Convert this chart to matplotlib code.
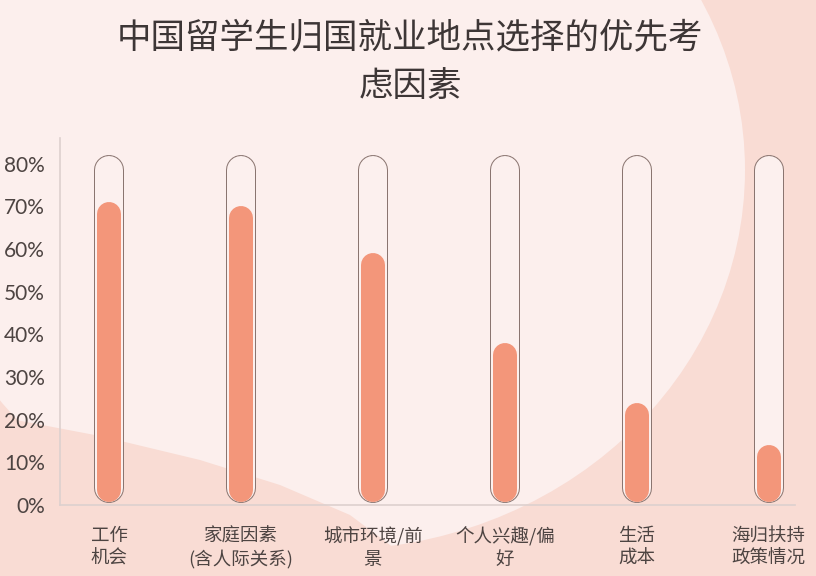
import matplotlib
matplotlib.use("Agg")
import matplotlib.pyplot as plt
from matplotlib.patches import Ellipse, Polygon
import numpy as np

plt.rcParams['font.family'] = ['Noto Sans CJK SC', 'DejaVu Sans']

categories = ["工作\n机会", "家庭因素\n(含人际关系)", "城市环境/前\n景", "个人兴趣/偏\n好", "生活\n成本", "海归扶持\n政策情况"]
values = [71, 70, 59, 38, 24, 14]
tube_max = 82
yticks = [0, 10, 20, 30, 40, 50, 60, 70, 80]
ytick_labels = ["0%", "10%", "20%", "30%", "40%", "50%", "60%", "70%", "80%"]
title = "中国留学生归国就业地点选择的优先考\n虑因素"

W, H, DPI = 816, 576, 100
fig = plt.figure(figsize=(W / DPI, H / DPI), dpi=DPI)

# background
bg = fig.add_axes([0, 0, 1, 1], zorder=0)
bg.set_xlim(0, W)
bg.set_ylim(H, 0)
bg.axis("off")
bg.add_patch(Polygon([[0, 0], [W, 0], [W, H], [0, H]], closed=True, color="#f9dcd4", lw=0))
bg.add_patch(Ellipse((330, 170), 830, 760, color="#fcefed", lw=0))
bg.add_patch(Polygon([[0, 417], [100, 436], [200, 460], [280, 485], [350, 515], [410, 560], [430, 576], [0, 576]],
                     closed=True, color="#f9dcd4", lw=0))

ax = fig.add_axes([60 / W, 1 - 505 / H, (795 - 60) / W, (505 - 138) / H], zorder=1)
ax.set_facecolor("none")
ax.set_xlim(-0.372, 5.2)
ax.set_ylim(0, 86)

px_per_unit = (505 - 138) / 86.0
pt = 72.0 / DPI

x = np.arange(len(categories))
# tubes
r_out = 15
for xi in x:
    ax.plot([xi, xi], [0.5 + r_out / px_per_unit, tube_max - r_out / px_per_unit],
            color="#8a7570", lw=30 * pt, solid_capstyle="round", zorder=2)
    ax.plot([xi, xi], [0.5 + r_out / px_per_unit, tube_max - r_out / px_per_unit],
            color="#fcf0ee", lw=28 * pt, solid_capstyle="round", zorder=3)
# fills
r_in = 12
for xi, v in zip(x, values):
    ax.plot([xi, xi], [0.8 + r_in / px_per_unit, v - r_in / px_per_unit],
            color="#f3967a", lw=24 * pt, solid_capstyle="round", zorder=4)

for s in ["top", "right"]:
    ax.spines[s].set_visible(False)
for s in ["left", "bottom"]:
    ax.spines[s].set_color("#ddd0ce")
    ax.spines[s].set_linewidth(1.2)

ax.set_yticks(yticks)
ax.set_yticklabels(ytick_labels, fontsize=15, color="#4d4442", family=["Lato", "DejaVu Sans"])
ax.set_xticks(x)
ax.set_xticklabels(categories, fontsize=13.3, color="#4d4442", linespacing=1.3)
ax.tick_params(axis="both", length=0)
ax.tick_params(axis="y", pad=11)
ax.tick_params(axis="x", pad=16)

fig.text(410 / W, 1 - 62 / H, title, ha="center", va="center", fontsize=24.8,
         color="#3d3636", linespacing=1.5)

fig.savefig("out.png", dpi=DPI)
